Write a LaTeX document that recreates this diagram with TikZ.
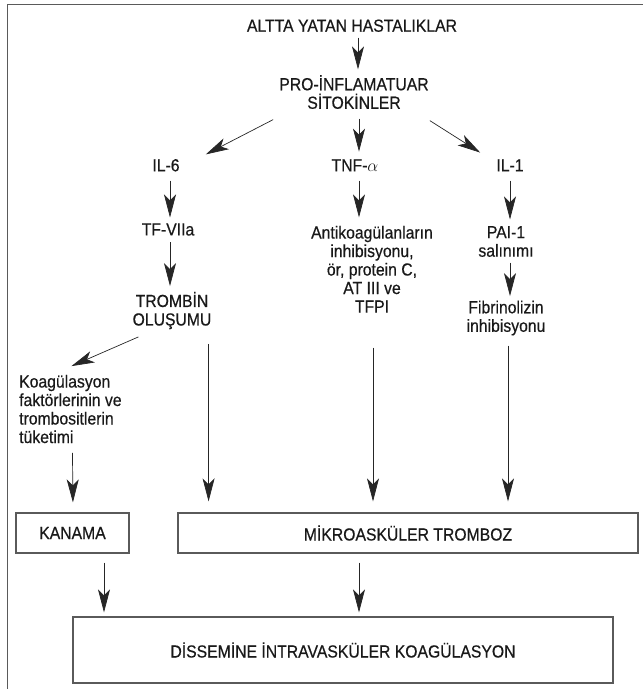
\documentclass[tikz,border=0pt]{standalone}
\usepackage{fontspec}
\setmainfont{Liberation Sans}[FakeStretch=0.9, FakeBold=0.5]
\usetikzlibrary{arrows.meta}
\definecolor{cizgi}{HTML}{5A5A5A}
\tikzset{
  yazi/.style={inner sep=0pt, align=center, text=black!90, font=\fontsize{17.5}{18.5}\selectfont},
  kutu/.style={draw=cizgi, line width=1.2pt, inner sep=0pt, text=black!90, font=\fontsize{17.5}{18.5}\selectfont},
  ok/.style={draw=black!85, line width=0.7pt, -{Stealth[length=23pt,width=12pt,inset=6pt]}},
}

\begin{document}
\begin{tikzpicture}[x=1pt,y=1pt]
\useasboundingbox (0,0) rectangle (643,-689);
% cerceve
\draw[cizgi, line width=1.5pt] (643,-4.5) -- (7.5,-4.5) -- (7.5,-689);

\node[yazi] (altta) at (352,-25.7) {ALTTA YATAN HASTALIKLAR};
\node[yazi] (pro) at (354,-92) {PRO-İNFLAMATUAR\\SİTOKİNLER};
\node[yazi] (il6) at (166,-165.3) {IL-6};
\node[yazi] (tnf) at (355,-165.3) {TNF-$\alpha$};
\node[yazi] (il1) at (510,-165.3) {IL-1};
\node[yazi] (tf) at (168,-229.5) {TF-VIIa};
\node[yazi] (antik) at (372,-269.2) {Antikoagülanların\\inhibisyonu,\\ör, protein C,\\AT III ve\\TFPI};
\node[yazi] (pai) at (506,-241.5) {PAI-1\\salınımı};
\node[yazi] (trombin) at (172,-310.5) {TROMBİN\\OLUŞUMU};
\node[yazi] (fibrin) at (506,-318) {Fibrinolizin\\inhibisyonu};
\node[yazi, align=left, anchor=west] (koag) at (19,-409) {Koagülasyon\\faktörlerinin ve\\trombositlerin\\tüketimi};
\node[kutu, minimum width=113pt, minimum height=40pt] (kanama) at (72.5,-533) {KANAMA};
\node[kutu, minimum width=460pt, minimum height=40pt] (mikro) at (408,-533) {MİKROASKÜLER TROMBOZ};
\node[kutu, minimum width=540pt, minimum height=66pt] (dic) at (343,-650) {DİSSEMİNE İNTRAVASKÜLER KOAGÜLASYON};

\draw[ok, shorten <=5.5pt, shorten >=5.5pt] ([xshift=6pt]altta.south) -- ([xshift=4pt]pro.north);
\draw[ok] ([shift={(-6,-10.5)}]pro.south west) -- ([shift={(26,4.5)}]il6.north east);
\draw[ok, shorten <=9.5pt, shorten >=7.5pt] ([xshift=5pt]pro.south) -- ([xshift=4pt]tnf.north);
\draw[ok] ([shift={(1,-11.5)}]pro.south east) -- ([shift={(-16,6.5)}]il1.north west);

\draw[ok, shorten <=9pt, shorten >=5.7pt] ([xshift=4pt]il6.south) -- ([xshift=2pt]tf.north);
\draw[ok, shorten <=6.5pt, shorten >=5.5pt] ([xshift=2pt]tf.south) -- ([xshift=-2pt]trombin.north);
\draw[ok, shorten <=9pt, shorten >=8.3pt] ([xshift=4pt]tnf.south) -- ([xshift=-13pt]antik.north);
\draw[ok, shorten <=9pt, shorten >=6.5pt] (il1.south) -- ([xshift=4pt]pai.north);
\draw[ok, shorten <=5.5pt, shorten >=4.3pt] ([xshift=4pt]pai.south) -- ([xshift=4pt]fibrin.north);

\draw[ok] ([shift={(6,-7.5)}]trombin.south west) -- ([shift={(1,8.5)}]koag.north);
\draw[ok, shorten <=9.5pt, shorten >=10pt] ([xshift=2pt]koag.south) -- ([xshift=0.5pt]kanama.north);
\draw[ok, shorten <=14.5pt, shorten >=11pt] ([xshift=-3pt]trombin.south east) -- ([xshift=-3pt]trombin.south east |- mikro.north);
\draw[ok, shorten <=35pt, shorten >=11pt] ([xshift=1pt]antik.south) -- ([xshift=1pt]antik.south |- mikro.north);
\draw[ok, shorten <=10pt, shorten >=11pt] ([xshift=2pt]fibrin.south) -- ([xshift=2pt]fibrin.south |- mikro.north);

\draw[ok, shorten <=9pt, shorten >=4pt] ([xshift=31.5pt]kanama.south) -- ([xshift=31.5pt]kanama.south |- dic.north);
\draw[ok, shorten <=9pt, shorten >=4pt] ([xshift=-49pt]mikro.south) -- ([xshift=-49pt]mikro.south |- dic.north);
\end{tikzpicture}
\end{document}
